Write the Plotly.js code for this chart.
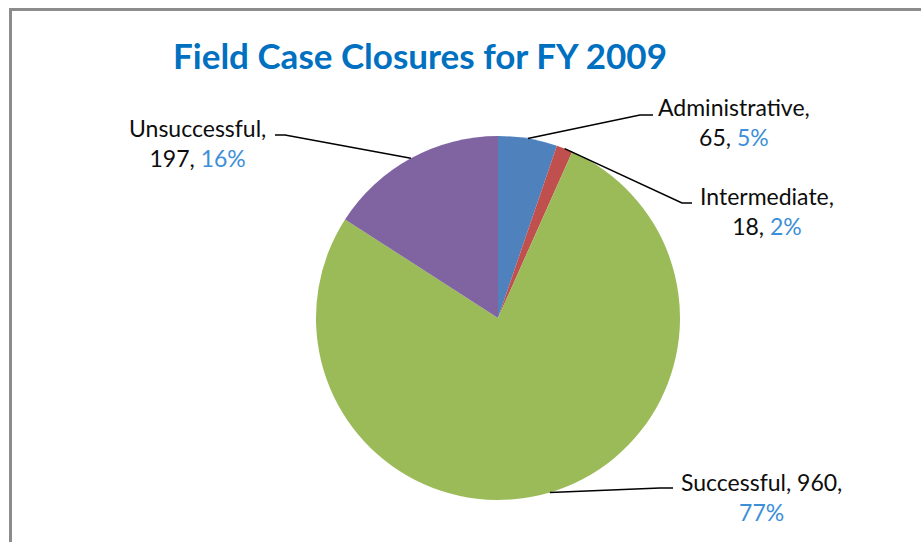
<!DOCTYPE html>
<html>
<head>
<meta charset="utf-8">
<script src="https://cdn.plot.ly/plotly-3.0.1.min.js"></script>
<style>html,body{margin:0;padding:0;background:#fff;}#chart{width:921px;height:542px;}</style>
</head>
<body>
<div id="chart"></div>
<script>
// ---- data ----
const categories = ["Administrative", "Intermediate", "Successful", "Unsuccessful"];
const counts = [65, 18, 960, 197];
const percentLabels = ["5%", "2%", "77%", "16%"];
const sliceColors = ["#4F81BD", "#C0504D", "#9BBB59", "#8064A2"];

// ---- layout constants (pixels) ----
const W = 921, H = 542;
const cx = 498, cy = 318, R = 182;
const px = x => x / W;
const py = y => 1 - y / H;
const pctSpan = s => `<span style="color:#3D8FD8">${s}</span>`;

// label text positions & leader elbows (pixel positions)
const labelPos = [
  {x: 734, y: 122, elbow: [640, 115], end: [653, 115], text: (c, v, p) => `${c},<br>${v}, ${pctSpan(p)}`},
  {x: 767, y: 211, elbow: [682, 203], end: [692, 203], text: (c, v, p) => `${c},<br>${v}, ${pctSpan(p)}`},
  {x: 761, y: 497, elbow: [660, 488], end: [673, 488], text: (c, v, p) => `${c}, ${v},<br>${pctSpan(p)}`},
  {x: 197, y: 143, elbow: [285, 135], end: [275, 135], text: (c, v, p) => `${c},<br>${v}, ${pctSpan(p)}`}
];

const total = counts.reduce((a, b) => a + b, 0);
let cum = 0;
const shapes = [];
const annotations = [];
counts.forEach((v, i) => {
  const midFrac = (cum + v / 2) / total;
  cum += v;
  const ang = midFrac * 2 * Math.PI;
  const ex = cx + R * Math.sin(ang);
  const ey = cy - R * Math.cos(ang);
  const L = labelPos[i];
  shapes.push({
    type: "path", xref: "paper", yref: "paper",
    path: `M ${px(ex)} ${py(ey)} L ${px(L.elbow[0])} ${py(L.elbow[1])} L ${px(L.end[0])} ${py(L.end[1])}`,
    line: {color: "#000000", width: 1.6}
  });
  annotations.push({
    xref: "paper", yref: "paper", x: px(L.x), y: py(L.y),
    xanchor: "center", yanchor: "middle", showarrow: false, align: "center",
    text: L.text(categories[i], v, percentLabels[i]),
    font: {family: "Lato, 'Open Sans', sans-serif", size: 23, color: "#0d0d0d"}
  });
});

// outer frame
shapes.push({
  type: "rect", xref: "paper", yref: "paper",
  x0: px(10.5), x1: px(W + 10), y0: py(9.5), y1: py(H + 10),
  line: {color: "#8C8C8C", width: 3}, fillcolor: "rgba(0,0,0,0)"
});

const trace = {
  type: "pie",
  labels: categories,
  values: counts,
  sort: false,
  direction: "clockwise",
  rotation: 0,
  marker: {colors: sliceColors, line: {width: 0}},
  textinfo: "none",
  hoverinfo: "label+value+percent",
  showlegend: false,
  domain: {x: [px(cx - R), px(cx + R)], y: [py(cy + R), py(cy - R)]}
};

const layout = {
  width: W, height: H,
  margin: {l: 0, r: 0, t: 0, b: 0},
  paper_bgcolor: "#ffffff",
  title: {
    text: "<b>Field Case Closures for FY 2009</b>",
    x: px(420), xanchor: "center", y: py(57), yanchor: "middle",
    font: {family: "Lato, 'Open Sans', sans-serif", size: 35, color: "#0070C0"}
  },
  shapes: shapes,
  annotations: annotations
};

Plotly.newPlot("chart", [trace], layout, {displayModeBar: false, staticPlot: true});
</script>
</body>
</html>
